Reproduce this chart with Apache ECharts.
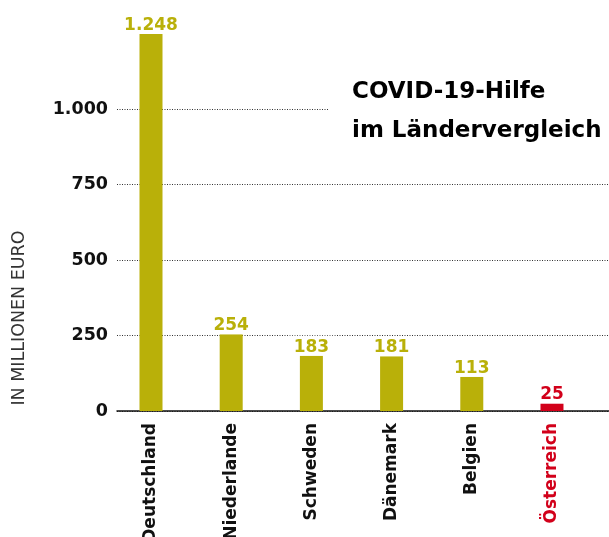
<!DOCTYPE html>
<html>
<head>
<meta charset="utf-8">
<script src="https://cdn.jsdelivr.net/npm/echarts@6/dist/echarts.min.js"></script>
<style>
  html, body { margin: 0; padding: 0; background: #fff; }
  #chart { width: 609px; height: 537px; }
</style>
</head>
<body>
<div id="chart"></div>
<script>
// Data
const categories = ['Deutschland', 'Niederlande', 'Schweden', 'Dänemark', 'Belgien', 'Österreich'];
const values = [1248, 254, 183, 181, 113, 25];
const highlighted = 'Österreich';
const yTicks = [0, 250, 500, 750, 1000];

const OLIVE = '#b9b009';
const RED = '#d2001a';
const FONT = "'DejaVu Sans', sans-serif";

// German thousands separator
function de(n) {
  return String(n).replace(/\B(?=(\d{3})+(?!\d))/g, '.');
}

function colorOf(i) {
  return categories[i] === highlighted ? RED : OLIVE;
}

const chart = echarts.init(document.getElementById('chart'));

const option = {
  animation: false,
  title: {
    text: 'COVID-19-Hilfe\nim Ländervergleich',
    left: 328,
    top: 67,
    backgroundColor: '#fff',
    padding: [6, 10, 6, 24],
    textStyle: {
      fontFamily: FONT,
      fontSize: 23,
      fontWeight: 'bold',
      color: '#000',
      lineHeight: 39
    }
  },
  graphic: [{
    type: 'text',
    x: 19,
    y: 318,
    rotation: Math.PI / 2,
    style: {
      text: 'IN MILLIONEN EURO',
      fontFamily: FONT,
      fontSize: 17.5,
      fontWeight: 'normal',
      fill: '#333',
      align: 'center',
      verticalAlign: 'middle'
    }
  }],
  grid: {
    left: 117,
    right: 0,
    top: 33.5,
    bottom: 126,
    outerBoundsMode: 'none'
  },
  xAxis: {
    type: 'value',
    min: -0.424,
    max: 5.711,
    splitLine: { show: false },
    axisTick: { show: false },
    axisLine: { lineStyle: { color: '#111', width: 1.5 } },
    axisLabel: {
      customValues: categories.map((c, i) => i),
      rotate: 90,
      margin: 12,
      fontFamily: FONT,
      fontSize: 17,
      fontWeight: 'bold',
      color: '#111',
      formatter: (v) => {
        const name = categories[v];
        return name === highlighted ? '{r|' + name + '}' : name;
      },
      rich: {
        r: { color: RED, fontFamily: FONT, fontSize: 17, fontWeight: 'bold' }
      }
    }
  },
  yAxis: {
    type: 'value',
    min: 0,
    max: 1250,
    interval: 250,
    axisLine: { show: false },
    axisTick: { show: false },
    splitLine: {
      showMaxLine: false,
      lineStyle: { color: '#333', type: [1, 1.5], width: 1 }
    },
    axisLabel: {
      showMaxLabel: false,
      margin: 9,
      fontFamily: FONT,
      fontSize: 17.5,
      fontWeight: 'bold',
      color: '#111',
      formatter: (v) => (yTicks.indexOf(v) >= 0 ? de(v) : '')
    }
  },
  series: [{
    type: 'bar',
    barWidth: 23,
    data: values.map((v, i) => ({
      value: [i, v],
      itemStyle: { color: colorOf(i) },
      label: { color: colorOf(i) }
    })),
    label: {
      show: true,
      position: 'top',
      distance: 0,
      fontFamily: FONT,
      fontSize: 17,
      fontWeight: 'bold',
      backgroundColor: '#fff',
      padding: [3, 6, 0, 6],
      formatter: (p) => de(p.value[1])
    }
  }]
};

chart.setOption(option);
</script>
</body>
</html>
